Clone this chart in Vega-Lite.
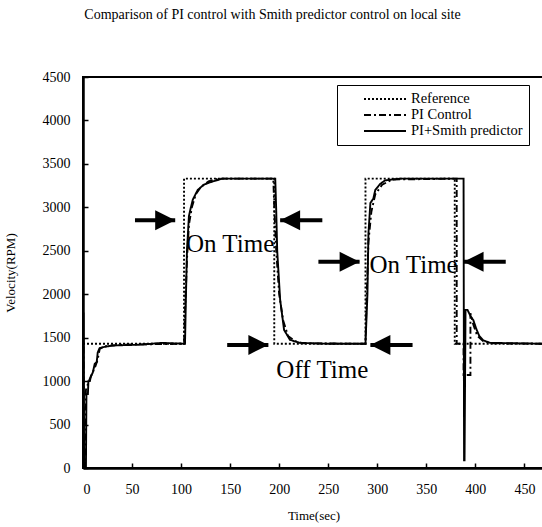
{
  "$schema": "https://vega.github.io/schema/vega-lite/v6.json",
  "width": 461,
  "height": 391,
  "autosize": {"type": "none"},
  "padding": {"left": 83, "top": 77, "right": 0, "bottom": 59},
  "background": "white",
  "config": {
    "font": "Liberation Serif",
    "view": {"stroke": "black", "strokeWidth": 2},
    "title": {"font": "Liberation Serif"},
    "legend": {"labelFont": "Liberation Serif"},
    "axis": {
      "grid": false,
      "domainColor": "black",
      "domainWidth": 2.5,
      "tickColor": "black",
      "tickSize": -5,
      "tickWidth": 1.5,
      "labelFont": "Liberation Serif",
      "labelFontSize": 14,
      "labelColor": "black",
      "titleFont": "Liberation Serif",
      "titleFontSize": 13,
      "titleFontWeight": "normal",
      "titleColor": "black"
    }
  },
  "title": {
    "text": "Comparison of PI control with Smith predictor control on local site",
    "font": "Liberation Serif",
    "fontSize": 14,
    "fontWeight": "normal",
    "color": "black",
    "anchor": "middle",
    "dx": -41,
    "offset": 48
  },
  "datasets": {
    "lines": [
      {"s": "Reference", "t": 0, "v": 1430},
      {"s": "Reference", "t": 103, "v": 1430},
      {"s": "Reference", "t": 103, "v": 3330},
      {"s": "Reference", "t": 195, "v": 3330},
      {"s": "Reference", "t": 195, "v": 1430},
      {"s": "Reference", "t": 288, "v": 1430},
      {"s": "Reference", "t": 288, "v": 3330},
      {"s": "Reference", "t": 379, "v": 3330},
      {"s": "Reference", "t": 379, "v": 1430},
      {"s": "Reference", "t": 470, "v": 1430},

      {"s": "PI Control", "t": 0, "v": 1430},
      {"s": "PI Control", "t": 0.5, "v": 1500},
      {"s": "PI Control", "t": 1, "v": 0},
      {"s": "PI Control", "t": 2, "v": 0},
      {"s": "PI Control", "t": 3, "v": 900},
      {"s": "PI Control", "t": 6, "v": 1000},
      {"s": "PI Control", "t": 9, "v": 1080},
      {"s": "PI Control", "t": 12, "v": 1150},
      {"s": "PI Control", "t": 15, "v": 1250},
      {"s": "PI Control", "t": 17, "v": 1370},
      {"s": "PI Control", "t": 22, "v": 1400},
      {"s": "PI Control", "t": 40, "v": 1420},
      {"s": "PI Control", "t": 103, "v": 1430},
      {"s": "PI Control", "t": 104, "v": 1800},
      {"s": "PI Control", "t": 106, "v": 2400},
      {"s": "PI Control", "t": 108, "v": 2800},
      {"s": "PI Control", "t": 111, "v": 3000},
      {"s": "PI Control", "t": 115, "v": 3150},
      {"s": "PI Control", "t": 120, "v": 3230},
      {"s": "PI Control", "t": 128, "v": 3300},
      {"s": "PI Control", "t": 138, "v": 3330},
      {"s": "PI Control", "t": 194, "v": 3330},
      {"s": "PI Control", "t": 195, "v": 3000},
      {"s": "PI Control", "t": 197, "v": 2500},
      {"s": "PI Control", "t": 200, "v": 2000},
      {"s": "PI Control", "t": 204, "v": 1700},
      {"s": "PI Control", "t": 209, "v": 1520},
      {"s": "PI Control", "t": 216, "v": 1460},
      {"s": "PI Control", "t": 225, "v": 1435},
      {"s": "PI Control", "t": 288, "v": 1430},
      {"s": "PI Control", "t": 289, "v": 1900},
      {"s": "PI Control", "t": 291, "v": 2600},
      {"s": "PI Control", "t": 294, "v": 2950},
      {"s": "PI Control", "t": 298, "v": 3150},
      {"s": "PI Control", "t": 305, "v": 3260},
      {"s": "PI Control", "t": 315, "v": 3320},
      {"s": "PI Control", "t": 381, "v": 3330},
      {"s": "PI Control", "t": 381, "v": 1430},
      {"s": "PI Control", "t": 388, "v": 1430},
      {"s": "PI Control", "t": 388, "v": 1070},
      {"s": "PI Control", "t": 395, "v": 1070},
      {"s": "PI Control", "t": 395, "v": 1780},
      {"s": "PI Control", "t": 398, "v": 1650},
      {"s": "PI Control", "t": 402, "v": 1520},
      {"s": "PI Control", "t": 408, "v": 1460},
      {"s": "PI Control", "t": 418, "v": 1435},
      {"s": "PI Control", "t": 470, "v": 1430},

      {"s": "PI+Smith predictor", "t": 0, "v": 1780},
      {"s": "PI+Smith predictor", "t": 0.5, "v": 1780},
      {"s": "PI+Smith predictor", "t": 1, "v": 0},
      {"s": "PI+Smith predictor", "t": 3, "v": 0},
      {"s": "PI+Smith predictor", "t": 3.5, "v": 850},
      {"s": "PI+Smith predictor", "t": 5, "v": 850},
      {"s": "PI+Smith predictor", "t": 5.5, "v": 1000},
      {"s": "PI+Smith predictor", "t": 7, "v": 1000},
      {"s": "PI+Smith predictor", "t": 8, "v": 1050},
      {"s": "PI+Smith predictor", "t": 10, "v": 1100},
      {"s": "PI+Smith predictor", "t": 12, "v": 1200},
      {"s": "PI+Smith predictor", "t": 14, "v": 1220},
      {"s": "PI+Smith predictor", "t": 15, "v": 1330},
      {"s": "PI+Smith predictor", "t": 17, "v": 1380},
      {"s": "PI+Smith predictor", "t": 20, "v": 1390},
      {"s": "PI+Smith predictor", "t": 25, "v": 1400},
      {"s": "PI+Smith predictor", "t": 30, "v": 1410},
      {"s": "PI+Smith predictor", "t": 60, "v": 1420},
      {"s": "PI+Smith predictor", "t": 80, "v": 1440},
      {"s": "PI+Smith predictor", "t": 104, "v": 1430},
      {"s": "PI+Smith predictor", "t": 105, "v": 2000},
      {"s": "PI+Smith predictor", "t": 106, "v": 2500},
      {"s": "PI+Smith predictor", "t": 108, "v": 2900},
      {"s": "PI+Smith predictor", "t": 110, "v": 3000},
      {"s": "PI+Smith predictor", "t": 112, "v": 3090},
      {"s": "PI+Smith predictor", "t": 117, "v": 3200},
      {"s": "PI+Smith predictor", "t": 123, "v": 3260},
      {"s": "PI+Smith predictor", "t": 130, "v": 3290},
      {"s": "PI+Smith predictor", "t": 142, "v": 3330},
      {"s": "PI+Smith predictor", "t": 196, "v": 3330},
      {"s": "PI+Smith predictor", "t": 197, "v": 2960},
      {"s": "PI+Smith predictor", "t": 198, "v": 2500},
      {"s": "PI+Smith predictor", "t": 201, "v": 1935},
      {"s": "PI+Smith predictor", "t": 205, "v": 1590},
      {"s": "PI+Smith predictor", "t": 211, "v": 1475},
      {"s": "PI+Smith predictor", "t": 221, "v": 1440},
      {"s": "PI+Smith predictor", "t": 250, "v": 1430},
      {"s": "PI+Smith predictor", "t": 288, "v": 1430},
      {"s": "PI+Smith predictor", "t": 290, "v": 2000},
      {"s": "PI+Smith predictor", "t": 291, "v": 2700},
      {"s": "PI+Smith predictor", "t": 293, "v": 3050},
      {"s": "PI+Smith predictor", "t": 296, "v": 3100},
      {"s": "PI+Smith predictor", "t": 298, "v": 3200},
      {"s": "PI+Smith predictor", "t": 303, "v": 3270},
      {"s": "PI+Smith predictor", "t": 308, "v": 3310},
      {"s": "PI+Smith predictor", "t": 323, "v": 3330},
      {"s": "PI+Smith predictor", "t": 388, "v": 3330},
      {"s": "PI+Smith predictor", "t": 388.5, "v": 90},
      {"s": "PI+Smith predictor", "t": 389, "v": 90},
      {"s": "PI+Smith predictor", "t": 390, "v": 1820},
      {"s": "PI+Smith predictor", "t": 392, "v": 1820},
      {"s": "PI+Smith predictor", "t": 395, "v": 1750},
      {"s": "PI+Smith predictor", "t": 398, "v": 1700},
      {"s": "PI+Smith predictor", "t": 401, "v": 1600},
      {"s": "PI+Smith predictor", "t": 404, "v": 1520},
      {"s": "PI+Smith predictor", "t": 408, "v": 1470},
      {"s": "PI+Smith predictor", "t": 415, "v": 1440},
      {"s": "PI+Smith predictor", "t": 470, "v": 1430}
    ],
    "arrows": [
      {"tail": 53, "tip": 94, "v": 2850, "dir": "right"},
      {"tail": 244, "tip": 201, "v": 2850, "dir": "left"},
      {"tail": 240, "tip": 282, "v": 2373, "dir": "right"},
      {"tail": 431, "tip": 388, "v": 2373, "dir": "left"},
      {"tail": 147, "tip": 189, "v": 1417, "dir": "right"},
      {"tail": 336, "tip": 293, "v": 1417, "dir": "left"}
    ],
    "notes": [
      {"t": 150, "v": 2490, "label": "On Time"},
      {"t": 337, "v": 2245, "label": "On Time"},
      {"t": 244, "v": 1037, "label": "Off Time"}
    ]
  },
  "layer": [
    {
      "data": {"name": "lines"},
      "mark": {"type": "line", "color": "black", "strokeWidth": 1.9, "clip": true},
      "encoding": {
        "x": {
          "field": "t", "type": "quantitative",
          "scale": {"domain": [0, 470], "nice": false},
          "axis": {"values": [0, 50, 100, 150, 200, 250, 300, 350, 400, 450], "format": "d", "labelPadding": 19, "titlePadding": 13},
          "title": "Time(sec)"
        },
        "y": {
          "field": "v", "type": "quantitative",
          "scale": {"domain": [0, 4500], "nice": false},
          "axis": {"values": [0, 500, 1000, 1500, 2000, 2500, 3000, 3500, 4000, 4500], "format": "d", "labelPadding": 18, "titlePadding": 25},
          "title": "Velocity(RPM)"
        },
        "strokeDash": {
          "field": "s", "type": "nominal",
          "scale": {"domain": ["Reference", "PI Control", "PI+Smith predictor"], "range": [[2, 2], [7, 3, 2, 3], [1, 0]]},
          "legend": {
            "orient": "none", "legendX": 254, "legendY": 8, "title": null,
            "strokeColor": "black", "fillColor": "white", "padding": 6,
            "symbolType": "stroke", "symbolSize": 1764, "symbolStrokeWidth": 2,
            "symbolStrokeColor": "black", "symbolOffset": 20,
            "clipHeight": 16, "rowPadding": 0,
            "labelFont": "Liberation Serif", "labelFontSize": 14.5, "labelColor": "black",
            "labelOffset": 4
          }
        },
        "order": {"value": null}
      }
    },
    {
      "data": {"name": "arrows"},
      "mark": {"type": "rule", "color": "black", "strokeWidth": 4},
      "encoding": {
        "x": {"field": "tail", "type": "quantitative"},
        "x2": {"field": "tip"},
        "y": {"field": "v", "type": "quantitative"}
      }
    },
    {
      "data": {"name": "arrows"},
      "mark": {"type": "point", "filled": true, "color": "black", "size": 400, "opacity": 1},
      "encoding": {
        "x": {"field": "tip", "type": "quantitative"},
        "y": {"field": "v", "type": "quantitative"},
        "shape": {
          "field": "dir", "type": "nominal",
          "scale": {"domain": ["right", "left"], "range": ["M0,0L-2,-1L-2,1Z", "M0,0L2,-1L2,1Z"]},
          "legend": null
        }
      }
    },
    {
      "data": {"name": "notes"},
      "mark": {"type": "text", "font": "Liberation Serif", "fontSize": 25, "color": "black", "baseline": "alphabetic", "align": "center"},
      "encoding": {
        "x": {"field": "t", "type": "quantitative"},
        "y": {"field": "v", "type": "quantitative"},
        "text": {"field": "label"}
      }
    }
  ]
}
